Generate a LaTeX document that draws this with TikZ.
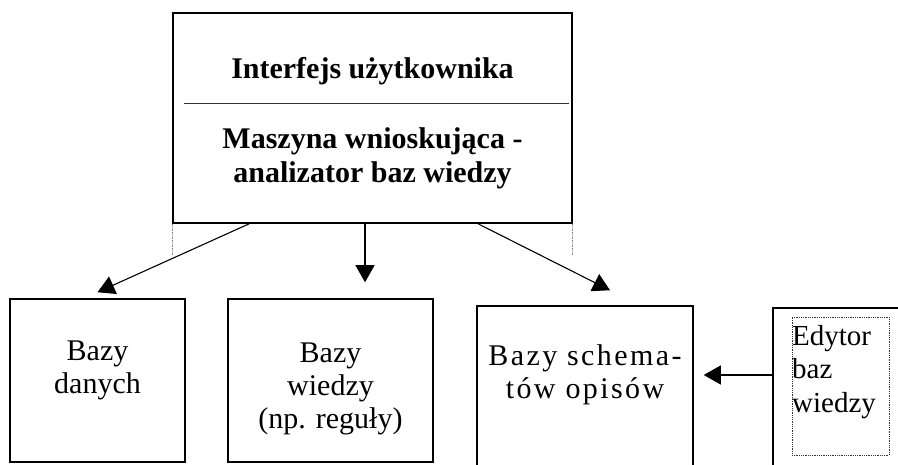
\documentclass[tikz,border=0pt]{standalone}
\usepackage{fontspec}
\setmainfont{Liberation Serif}
\newfontfamily\spacedfont[LetterSpace=8]{Liberation Serif}
\usetikzlibrary{arrows.meta,positioning}
\tikzset{
    kb box/.style={
        draw=black,
        line width=1.5pt,
        fill=white,
        inner sep=0pt
    },
    kb outer/.style={draw=black, line width=1.1pt, inner sep=0pt},
    kb inner/.style={draw=black!80, densely dotted, line width=0.8pt, inner sep=0pt},
    kb head/.style={font=\fontsize{30}{34}\selectfont\bfseries, align=center, inner sep=0pt},
    kb text/.style={font=\fontsize{30}{33}\selectfont, align=center, inner sep=0pt},
    kb spaced/.style={font=\spacedfont\fontsize{30}{33}\selectfont, align=center, inner sep=0pt},
    kb left/.style={font=\fontsize{29}{33.5}\selectfont, align=left, inner sep=0pt},
    kb guide/.style={densely dotted, draw=black!45, line width=0.6pt},
    kb sep/.style={draw=black!80, line width=0.9pt},
    kb arrow/.style={-{Triangle[length=17pt,width=19pt]}, line width=1.1pt, draw=black}
}

\begin{document}
\begin{tikzpicture}[x=1pt, y=-1pt]
\useasboundingbox (0,0) rectangle (898,465);
\clip (0,0) rectangle (898,465);

% top block
\node[kb box, minimum width=399pt, minimum height=210pt] (top) at (372.5,118) {};
\node[kb head] (ui) at (372.5,71) {Interfejs użytkownika};
\node[kb head] (engine) at (372.5,158) {Maszyna wnioskująca -\\analizator baz wiedzy};
\coordinate (sepl) at ([xshift=12pt]top.west |- 0,103);
\coordinate (sepr) at ([xshift=-4pt]top.east |- 0,103);
\draw[kb sep] (sepl) -- (sepr);
\draw[kb guide] (top.south west) -- ++(0,32);
\draw[kb guide] (top.south east) -- ++(0,32);

% bottom boxes
\node[kb box, minimum width=175pt, minimum height=163pt] (db) at (97.5,380.5) {};
\node[kb text] (dbtext) at (97.5,370.5) {Bazy\\danych};

\node[kb box, minimum width=205pt, minimum height=163pt] (kb) at (330.5,380.5) {};
\node[kb text] (kbtext) at (330.5,388.5) {Bazy\\wiedzy\\(np. reguły)};

\node[kb box, minimum width=216pt, minimum height=180pt] (schema) at (585,396) {};
\node[kb spaced] (schematext) at (585,375) {Bazy schema-\\tów opisów};

% editor
\node[kb outer, minimum width=147pt, minimum height=182pt] (ed) at (846.5,399) {};
\node[kb inner, minimum width=97pt, minimum height=138pt] (edin) at (840.5,386) {};
\node[kb left, anchor=west] (edtext) at (792,372) {Edytor\\baz\\wiedzy};

% arrows
\coordinate (midout) at ([xshift=-7.5pt]top.south);
\coordinate (edout) at ([yshift=24pt]ed.west);
\draw[kb arrow] ([xshift=77pt]top.south west) -- ([yshift=6pt]db.north);
\draw[kb arrow, shorten >=16pt] (midout) -- (midout |- kb.north);
\draw[kb arrow] ([xshift=105.5pt]top.south) -- ([xshift=25pt,yshift=15pt]schema.north);
\draw[kb arrow, shorten >=10pt] (edout) -- (edout -| schema.east);
\end{tikzpicture}
\end{document}
